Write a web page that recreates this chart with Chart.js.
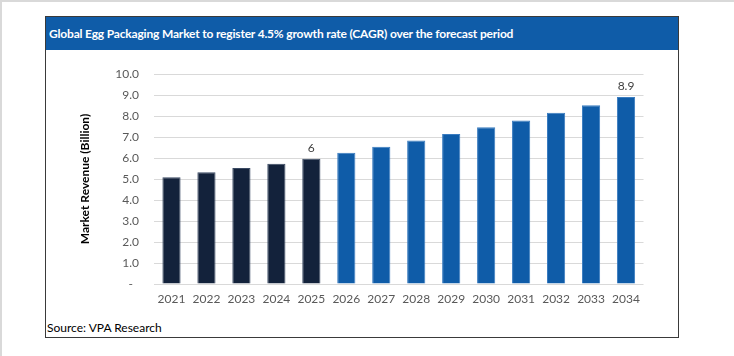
<!DOCTYPE html>
<html><head><meta charset="utf-8">
<script src="https://cdn.jsdelivr.net/npm/chart.js@4.4.0/dist/chart.umd.min.js"></script>
<style>
html,body{margin:0;padding:0;background:#fff;}
body{width:734px;height:356px;position:relative;overflow:hidden;font-family:Lato,"Open Sans",sans-serif;}
#topline{position:absolute;left:0;top:0;width:734px;height:2px;background:#d9d9d9;}
#leftline{position:absolute;left:0;top:0;width:2px;height:356px;background:#d9d9d9;}
#frame{position:absolute;left:45px;top:16px;width:632px;height:320px;border:1.5px solid #3a3a3a;}
#title{position:absolute;left:46px;top:17px;width:632px;height:33px;background:#0f5ca8;color:#fff;font-weight:bold;font-size:12px;letter-spacing:-0.18px;line-height:33px;padding-left:3px;box-sizing:border-box;white-space:nowrap;}
#source{position:absolute;left:47px;top:320px;font-size:12px;color:#000;line-height:16px;}
#c{position:absolute;left:0;top:0;}
</style></head>
<body>
<div id="topline"></div><div id="leftline"></div>
<div id="frame"></div>
<div id="title">Global Egg Packaging Market to register 4.5% growth rate (CAGR) over the forecast period</div>
<div id="source">Source: VPA Research</div>
<canvas id="c" width="734" height="356"></canvas>
<script>
const years = ['2021','2022','2023','2024','2025','2026','2027','2028','2029','2030','2031','2032','2033','2034'];
const revenue = [5.08,5.32,5.52,5.73,5.97,6.25,6.54,6.83,7.14,7.46,7.78,8.16,8.51,8.90];
const dataLabels = ['','','','','6','','','','','','','','','8.9'];
const historicColor = '#13223b';
const forecastColor = '#0f5ca8';
const colors = years.map(y => (+y <= 2025 ? historicColor : forecastColor));

const labelPlugin = {
  id: 'labels',
  afterDatasetsDraw(chart){
    const ctx = chart.ctx;
    const meta = chart.getDatasetMeta(0);
    ctx.save();
    ctx.font = '12px Lato, "Open Sans", sans-serif';
    ctx.fillStyle = '#404040';
    ctx.textAlign = 'center';
    ctx.textBaseline = 'middle';
    meta.data.forEach((bar,i)=>{
      if(dataLabels[i]) ctx.fillText(dataLabels[i], bar.x, bar.y - 11);
    });
    ctx.restore();
  }
};

new Chart(document.getElementById('c'), {
  type: 'bar',
  data: { labels: years, datasets: [{ data: revenue, backgroundColor: colors, borderColor: colors.map(c=> c===historicColor ? '#3a4a63' : '#3a7cc0'), borderWidth: 1, categoryPercentage: 1, barPercentage: 0.52 }] },
  options: {
    responsive: false, animation: false,
    layout: { padding: { left: 72, top: 74, right: 90.5, bottom: 42 } },
    plugins: { legend: { display: false }, tooltip: { enabled: false } },
    scales: {
      x: {
        grid: { display: false, drawTicks: false },
        border: { display: false },
        ticks: { color: '#595959', font: { size: 12, family: 'Lato, "Open Sans", sans-serif' }, padding: 8, maxRotation: 0, autoSkip: false },
        afterFit(s){ s.height = 30; }
      },
      y: {
        min: 0, max: 10,
        ticks: { stepSize: 1, color: '#595959', padding: 15, font: { size: 12, family: 'Lato, "Open Sans", sans-serif' },
          callback: v => v === 0 ? '-  ' : v.toFixed(1) },
        grid: { color: '#d9d9d9', lineWidth: 1, drawTicks: false },
        border: { display: false },
        title: { display: true, text: 'Market Revenue (Billion)', color: '#000', font: { size: 12, weight: 'bold', family: 'Lato, "Open Sans", sans-serif' }, padding: { top: 6, bottom: 0 } },
        afterFit(s){ s.width = 82; }
      }
    }
  },
  plugins: [labelPlugin]
});
</script>
</body></html>
